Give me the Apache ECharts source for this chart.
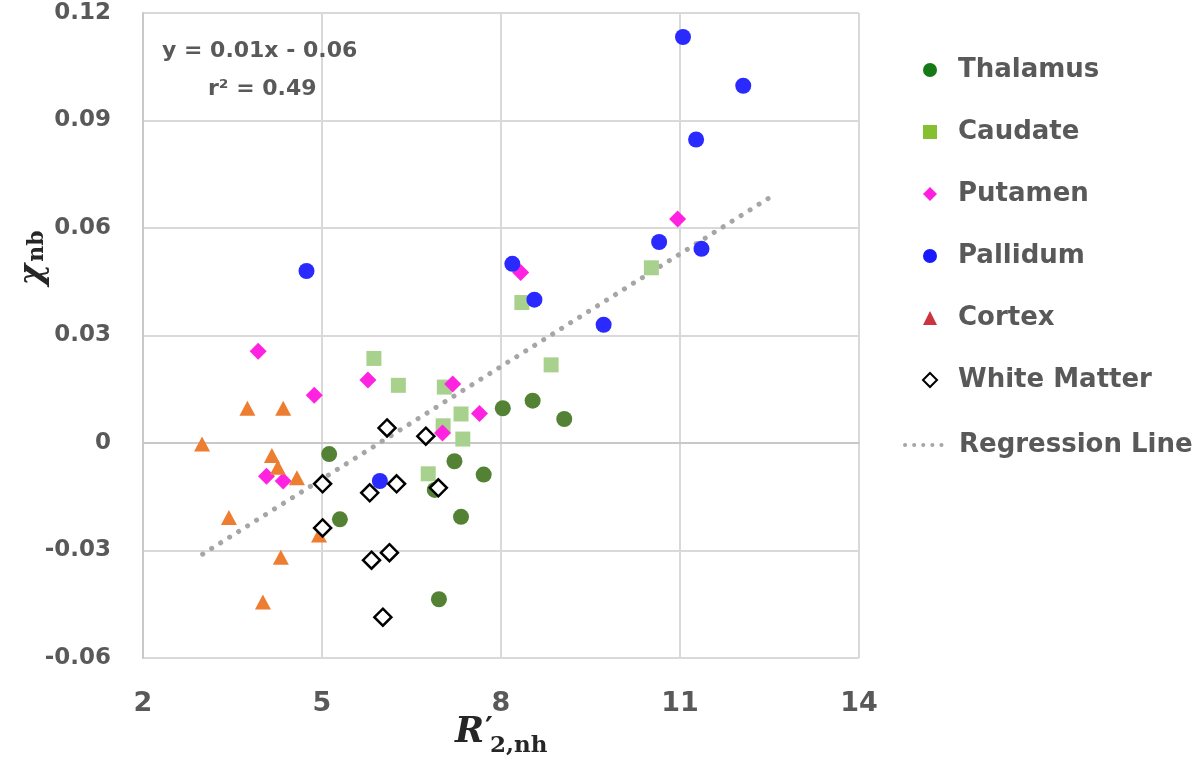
<!DOCTYPE html>
<html>
<head>
<meta charset="utf-8">
<script src="https://cdn.jsdelivr.net/npm/echarts@6/dist/echarts.min.js"></script>
<style>html,body{margin:0;padding:0;background:#fff;}#c{width:1200px;height:765px;}</style>
</head>
<body>
<div id="c"></div>
<script>
// ---- data ----
const seriesNames = ['Thalamus', 'Caudate', 'Putamen', 'Pallidum', 'Cortex', 'White Matter', 'Regression Line'];

const thalamusX = [8.03, 8.53, 9.06, 5.12, 7.22, 7.71, 6.89, 5.30, 7.33, 6.96];
const thalamusY = [0.0097, 0.0118, 0.0067, -0.0031, -0.0051, -0.0088, -0.0131, -0.0213, -0.0206, -0.0436];

const caudateX = [10.52, 8.35, 8.84, 5.87, 6.28, 7.05, 7.33, 7.03, 7.36, 6.78];
const caudateY = [0.0489, 0.0392, 0.0218, 0.0236, 0.0161, 0.0156, 0.0081, 0.0048, 0.0011, -0.0086];

const putamenX = [10.96, 8.33, 3.93, 5.77, 4.87, 7.19, 7.64, 7.02, 4.07, 4.35];
const putamenY = [0.0625, 0.0476, 0.0256, 0.0176, 0.0133, 0.0165, 0.0082, 0.0028, -0.0093, -0.0106];

const pallidumX = [11.05, 12.06, 11.27, 10.65, 11.36, 8.19, 8.56, 9.72, 4.74, 5.97];
const pallidumY = [0.1133, 0.0997, 0.0847, 0.0561, 0.0542, 0.0500, 0.0400, 0.0330, 0.0480, -0.0106];

const cortexX = [3.75, 4.35, 2.99, 4.16, 4.26, 4.58, 3.44, 4.95, 4.31, 4.01];
const cortexY = [0.0097, 0.0097, -0.0003, -0.0035, -0.0068, -0.0097, -0.0208, -0.0257, -0.0319, -0.0444];

const whiteMatterX = [6.09, 6.74, 5.01, 5.80, 6.25, 6.95, 5.01, 5.83, 6.13, 6.02];
const whiteMatterY = [0.0042, 0.0019, -0.0114, -0.0139, -0.0114, -0.0125, -0.0237, -0.0327, -0.0306, -0.0486];

const regressionX = [3.0, 12.55];
const regressionY = [-0.031, 0.069];

const xTicks = [2, 5, 8, 11, 14];
const yTicks = [-0.06, -0.03, 0, 0.03, 0.06, 0.09, 0.12];

const equationText = 'y = 0.01x - 0.06';
const r2Text = 'r\u00B2 = 0.49';

// ---- build ----
const pairs = (xs, ys) => xs.map((x, i) => [x, ys[i]]);
const labelFont = 'DejaVu Sans';
const textColor = '#595959';
const legendText = (padLeft) => ({color: textColor, fontFamily: labelFont, fontWeight: 'bold', fontSize: 26,
  lineHeight: 30, padding: [0, 0, 0, padLeft]});

const chart = echarts.init(document.getElementById('c'), null, {renderer: 'canvas'});

const option = {
  backgroundColor: '#ffffff',
  animation: false,
  grid: {left: 143, right: 341, top: 13, bottom: 107, containLabel: false},
  xAxis: {
    type: 'value',
    min: xTicks[0], max: xTicks[xTicks.length - 1], interval: xTicks[1] - xTicks[0],
    axisLine: {show: true, lineStyle: {color: '#c8c8c8', width: 2}},
    axisTick: {show: false},
    splitLine: {show: true, lineStyle: {color: '#d9d9d9', width: 2}},
    axisLabel: {color: textColor, fontFamily: labelFont, fontWeight: 'bold', fontSize: 27, margin: 32,
      formatter: v => String(v)}
  },
  yAxis: {
    type: 'value',
    min: yTicks[0], max: yTicks[yTicks.length - 1], interval: 0.03,
    axisLine: {show: true, onZero: false, lineStyle: {color: '#c8c8c8', width: 2}},
    axisTick: {show: false},
    splitLine: {show: true, lineStyle: {color: '#d9d9d9', width: 2}},
    axisLabel: {color: textColor, fontFamily: labelFont, fontWeight: 'bold', fontSize: 23, margin: 32,
      formatter: v => String(parseFloat(v.toFixed(2)))}
  },
  legend: [
    {
      orient: 'vertical',
      left: 917, top: 50,
      itemWidth: 14, itemHeight: 14, itemGap: 32,
      textStyle: legendText(16),
      data: [
        {name: seriesNames[0], itemStyle: {color: '#157a15'}},
        {name: seriesNames[1], itemStyle: {color: '#86bf2f'}},
        {name: seriesNames[2], itemStyle: {color: '#ff1ee0'}},
        {name: seriesNames[3], itemStyle: {color: '#1a1aff'}},
        {name: seriesNames[4], itemStyle: {color: '#cc3341'}},
        {name: seriesNames[5], itemStyle: {color: '#ffffff', borderColor: '#000000', borderWidth: 2}}
      ]
    },
    {
      orient: 'vertical',
      left: 898, top: 425,
      itemWidth: 40, itemHeight: 14,
      textStyle: legendText(9),
      data: [
        {name: seriesNames[6], itemStyle: {opacity: 0},
          lineStyle: {color: '#a6a6a6', width: 4, type: [0.1, 9], cap: 'round'}}
      ]
    }
  ],
  series: [
    {
      name: seriesNames[6], type: 'line', data: pairs(regressionX, regressionY),
      showSymbol: false, symbol: 'none', z: 1,
      lineStyle: {color: '#a6a6a6', width: 5, type: [0.1, 10.5], cap: 'round'},
      itemStyle: {color: '#a6a6a6'}
    },
    {
      name: seriesNames[0], type: 'scatter', data: pairs(thalamusX, thalamusY),
      symbol: 'circle', symbolSize: 16, z: 2, itemStyle: {color: '#548235', opacity: 1}
    },
    {
      name: seriesNames[1], type: 'scatter', data: pairs(caudateX, caudateY),
      symbol: 'rect', symbolSize: 15, z: 3, itemStyle: {color: '#a9d18e', opacity: 1}
    },
    {
      name: seriesNames[2], type: 'scatter', data: pairs(putamenX, putamenY),
      symbol: 'diamond', symbolSize: 17, z: 4, itemStyle: {color: '#ff22e0', opacity: 1}
    },
    {
      name: seriesNames[3], type: 'scatter', data: pairs(pallidumX, pallidumY),
      symbol: 'circle', symbolSize: 16, z: 5, itemStyle: {color: '#2a2aff', opacity: 1}
    },
    {
      name: seriesNames[4], type: 'scatter', data: pairs(cortexX, cortexY),
      symbol: 'triangle', symbolSize: [16, 15], z: 6, itemStyle: {color: '#ed7d31', opacity: 1}
    },
    {
      name: seriesNames[5], type: 'scatter', data: pairs(whiteMatterX, whiteMatterY),
      symbol: 'diamond', symbolSize: 17, z: 7,
      itemStyle: {color: '#ffffff', borderColor: '#000000', borderWidth: 2.5, opacity: 1}
    }
  ],
  graphic: [
    {type: 'text', left: 162, top: 40, z: 20,
      style: {text: equationText, fill: textColor, font: 'bold 22px "DejaVu Sans"'}},
    {type: 'text', left: 208, top: 78, z: 20,
      style: {text: r2Text, fill: textColor, font: 'bold 22px "DejaVu Sans"'}},
    // y-axis title  χ nb (rotated)
    {type: 'text', x: 33, y: 258, rotation: Math.PI / 2, z: 20,
      style: {text: '{a|\u03C7}{b|nb}', align: 'center', verticalAlign: 'middle', fill: '#262626',
        rich: {
          a: {fontFamily: 'DejaVu Serif', fontStyle: 'italic', fontWeight: 'bold', fontSize: 33, fill: '#262626'},
          b: {fontFamily: 'DejaVu Serif', fontWeight: 'bold', fontSize: 22, fill: '#262626', padding: [8, 0, 0, 2]}
        }}},
    // x-axis title  R'2,nh
    {type: 'text', x: 455, y: 715, z: 20,
      style: {text: 'R', fill: '#262626', font: 'italic bold 35px "DejaVu Serif"'}},
    {type: 'text', x: 485, y: 715, z: 20,
      style: {text: '\u2032', fill: '#262626', font: 'bold 30px "DejaVu Serif"'}},
    {type: 'text', x: 490, y: 735, z: 20,
      style: {text: '2,nh', fill: '#262626', font: 'bold 23px "DejaVu Serif"'}}
  ]
};
chart.setOption(option);
</script>
</body>
</html>
